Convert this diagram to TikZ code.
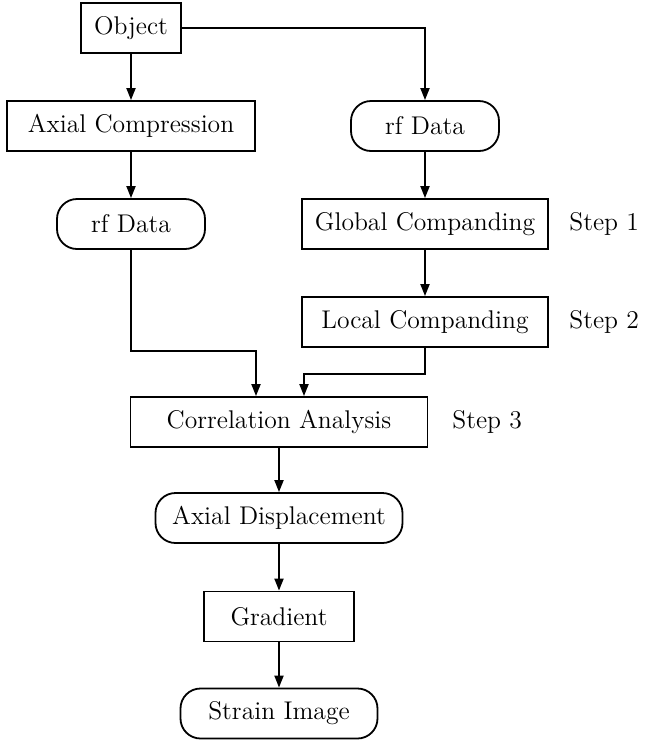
\documentclass[tikz,border=0pt]{standalone}
\usetikzlibrary{arrows.meta}
\begin{document}
\begin{tikzpicture}[x=0.5pt,y=-0.5pt,
  font=\fontsize{12.8}{15}\selectfont,
  box/.style={draw,line width=0.9pt,inner sep=0pt,minimum height=25pt},
  pill/.style={draw,line width=0.9pt,inner sep=0pt,minimum height=25pt,rounded corners=10pt},
  arr/.style={line width=0.9pt,-{Triangle[length=6pt,width=4.5pt]}},
  lbl/.style={anchor=west,inner sep=0pt}]
\useasboundingbox (0,0) rectangle (644,740);
\node[box,minimum width=50pt] (obj) at (131,28) {Object};
\node[box,minimum width=124pt] (axc) at (131,126) {Axial Compression};
\node[pill,minimum width=74pt] (rfr) at (425,126) {rf Data};
\node[pill,minimum width=74pt] (rfl) at (131,224) {rf Data};
\node[box,minimum width=123pt] (glob) at (425,224) {Global Companding};
\node[box,minimum width=123pt] (loc) at (425,322) {Local Companding};
\node[box,minimum width=148.5pt] (corr) at (279,422) {Correlation Analysis};
\node[pill,minimum width=123.5pt] (ad) at (279,518) {Axial Displacement};
\node[box,minimum width=75pt] (grad) at (279,616.5) {Gradient};
\node[pill,minimum width=98.5pt] (si) at (279,713.5) {Strain Image};
\node[lbl] (s1) at (569,224) {Step 1};
\node[lbl] (s2) at (569,322) {Step 2};
\node[lbl] (s3) at (452,422) {Step 3};
\coordinate (jl) at (256,351);
\coordinate (jr) at (304,374);
\draw[arr] (obj) -- (axc);
\draw[arr] (obj.east) -| (rfr.north);
\draw[arr] (axc) -- (rfl);
\draw[arr] (rfr) -- (glob);
\draw[arr] (glob) -- (loc);
\draw[arr] (rfl.south) |- (jl) -- (jl |- corr.north);
\draw[arr] (loc.south) |- (jr) -- (jr |- corr.north);
\draw[arr] (corr) -- (ad);
\draw[arr] (ad) -- (grad);
\draw[arr] (grad) -- (si);
\end{tikzpicture}
\end{document}
